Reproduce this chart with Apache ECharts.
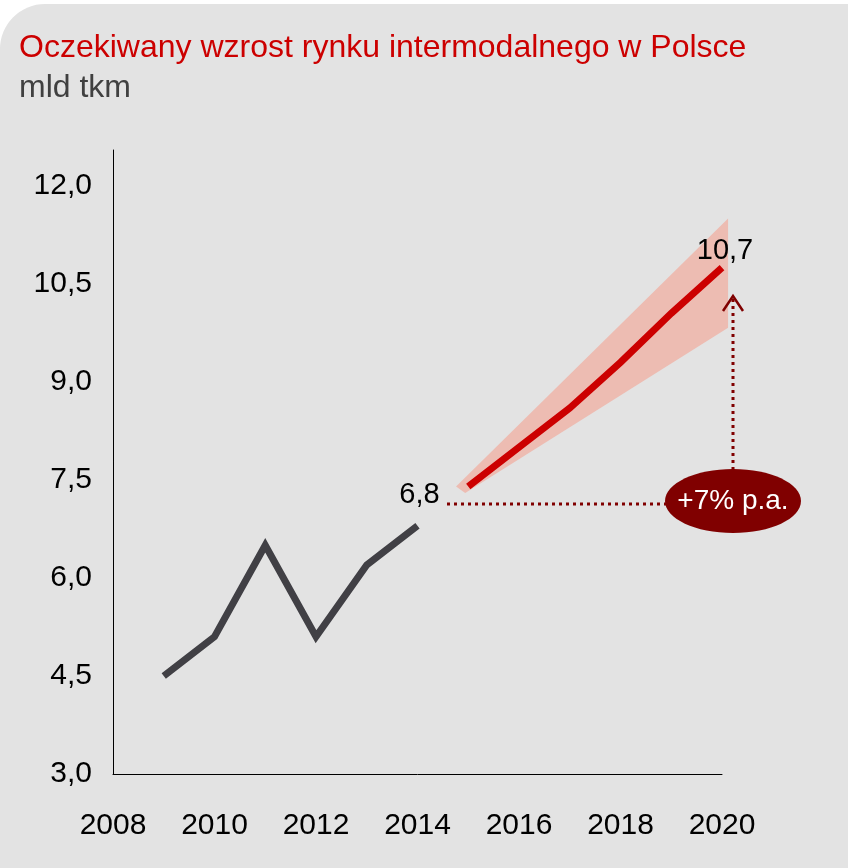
<!DOCTYPE html>
<html>
<head>
<meta charset="utf-8">
<script src="https://cdn.jsdelivr.net/npm/echarts@6/dist/echarts.min.js"></script>
<style>
  html, body { margin: 0; padding: 0; background: #fff; }
  #chart { width: 848px; height: 868px; }
</style>
</head>
<body>
<div id="chart"></div>
<script>
// dane historyczne (mld tkm)
const histYears = [2009, 2010, 2011, 2012, 2013, 2014]
const histValues = [4.5, 5.1, 6.5, 5.1, 6.2, 6.8]
// prognoza
const fcYears = [2015, 2016, 2017, 2018, 2019, 2020]
const fcValues = [7.4, 8.0, 8.6, 9.3, 10.05, 10.75]
// zakres prognozy (pasmo)
const bandUpperX = [2014.76, 2020.12]
const bandUpper = [7.4, 11.5]
const bandLowerX = [2014.94, 2020.12]
const bandLower = [7.3, 9.83]
// etykiety
const histEndLabel = "6,8"
const fcEndLabel = "10,7"
const growthLabel = "+7% p.a."

const FONT = "Liberation Sans"
const DARK_RED = "#800000"

let myChart = echarts.init(document.getElementById("chart"))

let histData = histYears.map((y, i) => [y, histValues[i]])
let fcData = fcYears.map((y, i) => [y, fcValues[i]])
let last = histData.length - 1
let lastFc = fcData.length - 1

myChart.setOption({
  animation: false,
  textStyle: { fontFamily: FONT },
  title: {
    text: "Oczekiwany wzrost rynku intermodalnego w Polsce",
    subtext: "mld tkm",
    left: 14,
    top: 26,
    itemGap: 6,
    textStyle: { color: "#cc0000", fontSize: 32, fontWeight: "normal", fontFamily: FONT, lineHeight: 34 },
    subtextStyle: { color: "#404040", fontSize: 32, fontFamily: FONT, lineHeight: 34 }
  },
  grid: { left: 113, right: 126, top: 150, bottom: 94 },
  xAxis: {
    type: "value",
    min: 2008,
    max: 2020,
    interval: 2,
    axisLine: { lineStyle: { color: "#000", width: 1 } },
    axisTick: { show: false },
    splitLine: { show: false },
    axisLabel: {
      color: "#000",
      fontSize: 30,
      fontFamily: FONT,
      margin: 37,
      formatter: function (v) { return String(v) }
    }
  },
  yAxis: {
    type: "value",
    min: 3,
    max: 12.55,
    interval: 1.5,
    axisLine: { show: true, lineStyle: { color: "#000", width: 1 } },
    axisTick: { show: false },
    splitLine: { show: false },
    axisLabel: {
      color: "#000",
      fontSize: 30,
      fontFamily: FONT,
      margin: 21,
      showMaxLabel: false,
      formatter: function (v) {
        let k = v / 1.5
        if (Math.abs(k - Math.round(k)) > 1e-6) return ""
        return v.toFixed(1).replace(".", ",")
      }
    }
  },
  series: [
    {
      // pasmo prognozy
      type: "custom",
      clip: false,
      silent: true,
      z: 1,
      data: [0],
      renderItem: function (params, api) {
        let pts = []
        bandUpperX.forEach((x, i) => pts.push(api.coord([x, bandUpper[i]])))
        for (let i = bandLowerX.length - 1; i >= 0; i--) {
          pts.push(api.coord([bandLowerX[i], bandLower[i]]))
        }
        return {
          type: "polygon",
          shape: { points: pts },
          style: { fill: "#edbcb2" }
        }
      }
    },
    {
      type: "line",
      data: histData,
      symbol: "none",
      z: 3,
      lineStyle: { color: "#414045", width: 7, cap: "butt", join: "miter" }
    },
    {
      type: "line",
      data: fcData,
      symbol: "none",
      z: 3,
      lineStyle: { color: "#cc0000", width: 7, cap: "butt", join: "miter" }
    },
    {
      // etykiety końcowe
      type: "scatter",
      symbolSize: 0,
      silent: true,
      z: 4,
      data: [
        { value: histData[last], label: { formatter: histEndLabel, distance: 16, offset: [2, 0] } },
        { value: fcData[lastFc], label: { formatter: fcEndLabel, distance: 2, offset: [3, 0] } }
      ],
      itemStyle: { color: "transparent", opacity: 1 },
      label: { show: true, position: "top", color: "#000", opacity: 1, fontSize: 29, fontFamily: FONT }
    }
  ],
  graphic: [
    {
      type: "rect",
      z: -10,
      silent: true,
      shape: { x: 0, y: 4, width: 848, height: 864, r: [45, 0, 0, 0] },
      style: { fill: "#e3e3e3" }
    },
    {
      // pozioma linia kropkowana
      type: "line",
      z: 5,
      shape: { x1: 447, y1: 504, x2: 668, y2: 504 },
      style: { stroke: DARK_RED, lineWidth: 3, lineDash: [3, 4] }
    },
    {
      // pionowa linia kropkowana
      type: "line",
      z: 5,
      shape: { x1: 733, y1: 470, x2: 733, y2: 298 },
      style: { stroke: DARK_RED, lineWidth: 3, lineDash: [3, 4] }
    },
    {
      type: "polyline",
      z: 5,
      shape: { points: [[723, 311], [733, 296], [743, 311]] },
      style: { stroke: DARK_RED, lineWidth: 2.5, fill: null }
    },
    {
      type: "ellipse",
      z: 6,
      shape: { cx: 733, cy: 501, rx: 68, ry: 32 },
      style: { fill: DARK_RED }
    },
    {
      type: "text",
      z: 7,
      x: 733,
      y: 501,
      style: {
        text: growthLabel,
        fill: "#fff",
        font: "28px '" + FONT + "'",
        align: "center",
        verticalAlign: "middle"
      }
    }
  ]
})
</script>
</body>
</html>
